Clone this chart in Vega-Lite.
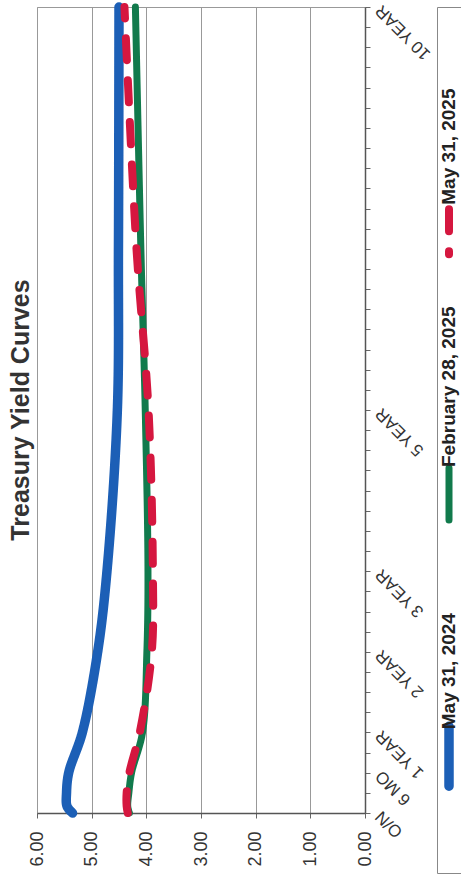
{
  "$schema": "https://vega.github.io/schema/vega-lite/v6.json",
  "background": "white",
  "padding": {"left": 8, "top": 0, "right": 0, "bottom": 0},
  "spacing": 72,
  "bounds": "flush",
  "config": {"font": "Liberation Sans"},
  "data": {"values": [
    {"series": "May 31, 2024", "maturity": "O/N", "years": 0, "yield": 5.35},
    {"series": "May 31, 2024", "maturity": "1 MO", "years": 0.0833, "yield": 5.45},
    {"series": "May 31, 2024", "maturity": "3 MO", "years": 0.25, "yield": 5.46},
    {"series": "May 31, 2024", "maturity": "6 MO", "years": 0.5, "yield": 5.42},
    {"series": "May 31, 2024", "maturity": "1 YEAR", "years": 1, "yield": 5.17},
    {"series": "May 31, 2024", "maturity": "2 YEAR", "years": 2, "yield": 4.89},
    {"series": "May 31, 2024", "maturity": "3 YEAR", "years": 3, "yield": 4.72},
    {"series": "May 31, 2024", "maturity": "5 YEAR", "years": 5, "yield": 4.53},
    {"series": "May 31, 2024", "maturity": "7 YEAR", "years": 7, "yield": 4.51},
    {"series": "May 31, 2024", "maturity": "10 YEAR", "years": 10, "yield": 4.50},
    {"series": "February 28, 2025", "maturity": "O/N", "years": 0, "yield": 4.31},
    {"series": "February 28, 2025", "maturity": "1 MO", "years": 0.0833, "yield": 4.34},
    {"series": "February 28, 2025", "maturity": "3 MO", "years": 0.25, "yield": 4.32},
    {"series": "February 28, 2025", "maturity": "6 MO", "years": 0.5, "yield": 4.27},
    {"series": "February 28, 2025", "maturity": "1 YEAR", "years": 1, "yield": 4.07},
    {"series": "February 28, 2025", "maturity": "2 YEAR", "years": 2, "yield": 3.99},
    {"series": "February 28, 2025", "maturity": "3 YEAR", "years": 3, "yield": 3.97},
    {"series": "February 28, 2025", "maturity": "5 YEAR", "years": 5, "yield": 4.02},
    {"series": "February 28, 2025", "maturity": "7 YEAR", "years": 7, "yield": 4.10},
    {"series": "February 28, 2025", "maturity": "10 YEAR", "years": 10, "yield": 4.20},
    {"series": "May 31, 2025", "maturity": "O/N", "years": 0, "yield": 4.34},
    {"series": "May 31, 2025", "maturity": "1 MO", "years": 0.0833, "yield": 4.36},
    {"series": "May 31, 2025", "maturity": "3 MO", "years": 0.25, "yield": 4.36},
    {"series": "May 31, 2025", "maturity": "6 MO", "years": 0.5, "yield": 4.31},
    {"series": "May 31, 2025", "maturity": "1 YEAR", "years": 1, "yield": 4.12},
    {"series": "May 31, 2025", "maturity": "2 YEAR", "years": 2, "yield": 3.90},
    {"series": "May 31, 2025", "maturity": "3 YEAR", "years": 3, "yield": 3.88},
    {"series": "May 31, 2025", "maturity": "5 YEAR", "years": 5, "yield": 3.96},
    {"series": "May 31, 2025", "maturity": "7 YEAR", "years": 7, "yield": 4.18},
    {"series": "May 31, 2025", "maturity": "10 YEAR", "years": 10, "yield": 4.40}
  ]},
  "hconcat": [
    {
      "width": 328,
      "height": 806,
      "view": {"stroke": "#999"},
      "title": {"text": "Treasury Yield Curves", "orient": "left", "anchor": "middle", "fontSize": 25, "fontWeight": "bold", "font": "Liberation Sans", "color": "#333", "offset": -6},
      "mark": {"type": "line", "interpolate": "catmull-rom", "strokeCap": "round", "strokeJoin": "round"},
      "encoding": {
        "x": {
          "field": "yield", "type": "quantitative",
          "scale": {"domain": [0, 6], "reverse": true, "nice": false},
          "axis": {
            "orient": "bottom", "title": null, "values": [0, 1, 2, 3, 4, 5, 6], "format": ".2f",
            "labelAngle": 270, "labelAlign": "right", "labelBaseline": "middle",
            "labelFontSize": 18, "labelColor": "#333", "labelPadding": 13,
            "tickSize": 5, "tickColor": "#666", "domainColor": "#555", "domainWidth": 1.5,
            "grid": true, "gridColor": "#999", "gridWidth": 1,
            "labelFlush": false, "labelOverlap": false, "labelBound": false
          }
        },
        "y": {
          "field": "years", "type": "quantitative",
          "scale": {"domain": [0, 10], "nice": false},
          "axis": {
            "orient": "right", "title": null,
            "values": [0, 0.25, 0.5, 0.75, 1, 1.25, 1.5, 1.75, 2, 2.25, 2.5, 2.75, 3, 3.25, 3.5, 3.75, 4, 4.25, 4.5, 4.75, 5, 5.25, 5.5, 5.75, 6, 6.25, 6.5, 6.75, 7, 7.25, 7.5, 7.75, 8, 8.25, 8.5, 8.75, 9, 9.25, 9.5, 9.75, 10],
            "labelExpr": "datum.value === 0 ? 'O/N' : datum.value === 0.5 ? '6 MO' : datum.value === 1 ? '1 YEAR' : datum.value === 2 ? '2 YEAR' : datum.value === 3 ? '3 YEAR' : datum.value === 5 ? '5 YEAR' : datum.value === 10 ? '10 YEAR' : ''",
            "labelAngle": 225, "labelAlign": "right", "labelBaseline": "middle",
            "labelFontSize": 17, "labelColor": "#333", "labelPadding": 8,
            "tickSize": 5, "tickColor": "#666", "domainColor": "#555", "domainWidth": 1.5,
            "grid": false, "labelFlush": false, "labelOverlap": false, "labelBound": false
          }
        },
        "order": {"field": "years", "type": "quantitative"},
        "color": {
          "field": "series", "type": "nominal",
          "scale": {"domain": ["May 31, 2025", "February 28, 2025", "May 31, 2024"], "range": ["#d5173f", "#117a4c", "#1c5fb6"]},
          "legend": null
        },
        "strokeDash": {
          "field": "series", "type": "nominal",
          "scale": {"domain": ["May 31, 2025", "February 28, 2025", "May 31, 2024"], "range": [[22, 20], [1, 0], [1, 0]]},
          "legend": null
        },
        "strokeWidth": {
          "field": "series", "type": "nominal",
          "scale": {"type": "ordinal", "domain": ["May 31, 2025", "February 28, 2025", "May 31, 2024"], "range": [8, 7, 9.5]},
          "legend": null
        }
      }
    },
    {
      "width": 24,
      "height": 866,
      "view": {"stroke": "#888"},
      "transform": [{"filter": "datum.years === 0"}],
      "encoding": {
        "y": {"field": "series", "type": "nominal", "scale": {"type": "point", "domain": ["May 31, 2025", "February 28, 2025", "May 31, 2024"], "padding": 0.651}, "axis": null}
      },
      "layer": [
        {
          "mark": {"type": "point", "shape": "stroke", "angle": 90, "filled": false, "opacity": 1, "strokeCap": "round", "yOffset": 54},
          "encoding": {
            "color": {"field": "series", "type": "nominal", "scale": {"domain": ["May 31, 2025", "February 28, 2025", "May 31, 2024"], "range": ["#d5173f", "#117a4c", "#1c5fb6"]}, "legend": null},
            "strokeDash": {"field": "series", "type": "nominal", "scale": {"domain": ["May 31, 2025", "February 28, 2025", "May 31, 2024"], "range": [[22, 20], [1, 0], [1, 0]]}, "legend": null},
            "strokeWidth": {"field": "series", "type": "nominal", "scale": {"type": "ordinal", "domain": ["May 31, 2025", "February 28, 2025", "May 31, 2024"], "range": [8, 7, 9.5]}, "legend": null},
            "size": {"field": "series", "type": "nominal", "scale": {"type": "ordinal", "domain": ["May 31, 2025", "February 28, 2025", "May 31, 2024"], "range": [2025, 2704, 3600]}, "legend": null}
          }
        },
        {
          "mark": {"type": "text", "angle": 270, "align": "left", "baseline": "middle", "yOffset": 27, "fontSize": 19, "fontWeight": "bold", "font": "Liberation Sans", "color": "#222"},
          "encoding": {"text": {"field": "series", "type": "nominal"}}
        }
      ]
    }
  ],
  "resolve": {"scale": {"x": "independent", "y": "independent"}}
}
